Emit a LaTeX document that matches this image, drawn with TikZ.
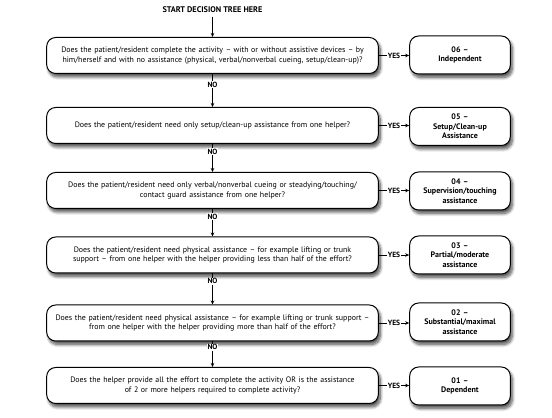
\documentclass[tikz,border=0pt]{standalone}
\usepackage{fontspec}
\setmainfont{PT Sans}
\usetikzlibrary{shadows.blur,arrows.meta}
\tikzset{
  shad/.style={blur shadow={shadow xshift=2pt, shadow yshift=-3.5pt, shadow blur steps=10, shadow blur radius=3pt, shadow opacity=70}},
  qbox/.style={draw=black, line width=1pt, rounded corners=9pt, fill=white,
    minimum width=331pt, minimum height=36pt, align=center, text width=325pt,
    font=\fontsize{7.9}{9.8}\selectfont, shad},
  rbox/.style={draw=black, line width=1pt, rounded corners=9pt, fill=white,
    minimum width=96pt, minimum height=38pt, align=center, text width=94pt,
    font=\fontsize{8}{9.6}\selectfont\bfseries, shad},
  arr/.style={line width=0.7pt, -{Stealth[length=4pt,width=3.5pt]}},
  lab/.style={fill=white, inner sep=1pt, font=\fontsize{7.5}{8}\selectfont\bfseries},
}
\begin{document}
\begin{tikzpicture}[x=1pt,y=1pt]
\useasboundingbox (0,0) rectangle (552,418);
\node[font=\fontsize{8.2}{9}\selectfont\bfseries] (title) at (212.5,408) {START DECISION TREE HERE};

\node[qbox] (q1) at (212.5,362.5) {Does the patient/resident complete the activity -- with or without assistive devices -- by\\ him/herself and with no assistance (physical, verbal/nonverbal cueing, setup/clean-up)?};
\node[qbox] (q2) at (212.5,292.5) {Does the patient/resident need only setup/clean-up assistance from one helper?};
\node[qbox] (q3) at (212.5,227.5) {Does the patient/resident need only verbal/nonverbal cueing or steadying/touching/\\ contact guard assistance from one helper?};
\node[qbox] (q4) at (212.5,163) {Does the patient/resident need physical assistance -- for example lifting or trunk\\ support -- from one helper with the helper providing less than half of the effort?};
\node[qbox] (q5) at (212.5,95) {Does the patient/resident need physical assistance -- for example lifting or trunk support --\\ from one helper with the helper providing more than half of the effort?};
\node[qbox] (q6) at (212.5,32.5) {Does the helper provide all the effort to complete the activity OR is the assistance\\ of 2 or more helpers required to complete activity?};

\node[rbox] (r1) at (460,363) {06 --\\ Independent};
\node[rbox] (r2) at (460,291.5) {05 --\\ Setup/Clean-up\\ Assistance};
\node[rbox] (r3) at (460,227) {04 --\\ Supervision/touching\\ assistance};
\node[rbox] (r4) at (460,163) {03 --\\ Partial/moderate\\ assistance};
\node[rbox] (r5) at (460,96) {02 --\\ Substantial/maximal\\ assistance};
\node[rbox] (r6) at (460,32) {01 --\\ Dependent};

\draw[arr] (title) -- (q1);
\draw[arr] (q1) -- node[lab, pos=0.32] {NO} (q2);
\draw[arr] (q2) -- node[lab, pos=0.27] {NO} (q3);
\draw[arr] (q3) -- node[lab, pos=0.27] {NO} (q4);
\draw[arr] (q4) -- node[lab, pos=0.25] {NO} (q5);
\draw[arr] (q5) -- node[lab, pos=0.23] {NO} (q6);

\foreach \i in {1,...,6}{
  \draw[arr] (q\i.east) -- node[lab] {YES} (q\i.east -| r\i.west);
}
\end{tikzpicture}
\end{document}
